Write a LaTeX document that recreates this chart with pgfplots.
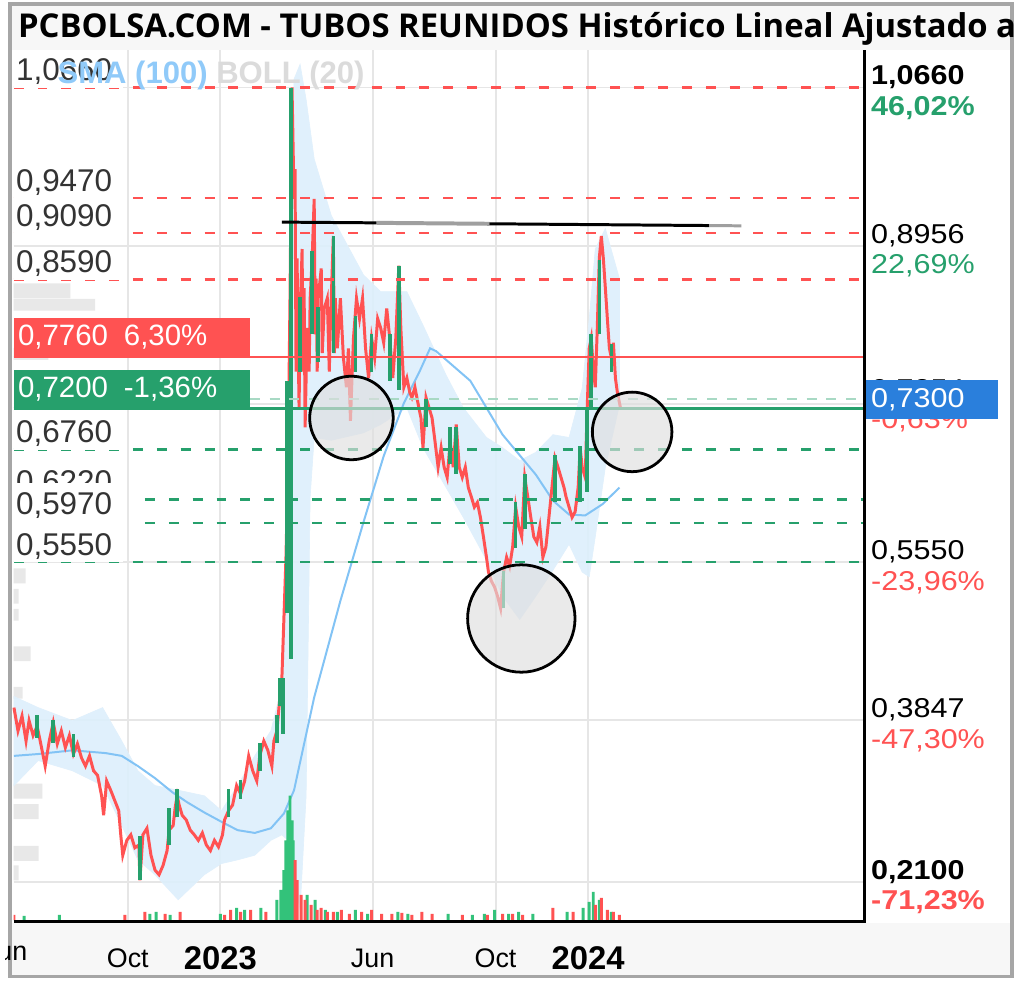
\documentclass[border=0pt]{standalone}
\usepackage{fontspec}
\setmainfont{Liberation Sans}
\newfontfamily\titlefont{Open Sans}
\newfontfamily\rfont[FakeStretch=1.12]{Liberation Sans}
\usepackage{pgfplots}
\usepackage{pgfplotstable}
\pgfplotsset{compat=1.18}

\definecolor{cred}{HTML}{FF5252}
\definecolor{cgreen}{HTML}{26A06C}
\definecolor{vgreen}{HTML}{33C27A}
\definecolor{cblue}{HTML}{2A7FDC}
\definecolor{sma}{HTML}{82C3F5}
\definecolor{smaleg}{HTML}{90CAF9}
\definecolor{bandc}{HTML}{DDEFFC}
\definecolor{gridc}{HTML}{E6E6E6}
\definecolor{bgc}{HTML}{F7F7F7}
\definecolor{framec}{HTML}{A6A6A6}
\definecolor{labc}{HTML}{333333}
\definecolor{histc}{HTML}{E8E8E8}

% close prices (day 0 = 1 Jan 2023)
\pgfplotstableread{
d p
-205 0.398
-201 0.373
-197 0.389
-193 0.362
-190 0.384
-186 0.368
-182 0.378
-178 0.357
-174 0.335
-170 0.362
-166 0.382
-162 0.359
-158 0.373
-154 0.355
-150 0.368
-146 0.348
-142 0.359
-138 0.344
-134 0.335
-130 0.346
-126 0.330
-122 0.325
-118 0.303
-116 0.282
-113 0.319
-109 0.309
-105 0.298
-101 0.287
-99 0.261
-97 0.239
-93 0.255
-89 0.261
-85 0.247
-81 0.250
-80 0.212
-77 0.261
-73 0.268
-69 0.239
-65 0.223
-61 0.218
-57 0.228
-53 0.244
-51 0.266
-47 0.271
-45 0.290
-43 0.303
-41 0.293
-38 0.282
-34 0.277
-30 0.266
-26 0.261
-22 0.255
-18 0.263
-14 0.250
-10 0.244
-6 0.255
-2 0.248
2 0.261
4 0.277
8 0.287
12 0.293
16 0.314
20 0.305
24 0.319
28 0.346
32 0.330
36 0.319
39 0.346
43 0.362
47 0.352
51 0.335
53 0.362
56 0.373
59 0.410
61 0.432
63 0.496
65 0.560
67 0.657
69 0.839
71 1.066
73 0.946
74 0.978
75 0.760
76 0.882
78 0.720
79 0.817
81 0.892
82 0.760
83 0.850
84 0.700
86 0.807
88 0.760
89 0.839
91 0.882
93 0.946
94 0.800
95 0.860
96 0.760
97 0.839
100 0.871
101 0.780
103 0.828
106 0.839
108 0.760
109 0.807
112 0.906
113 0.780
114 0.839
116 0.785
119 0.839
122 0.775
125 0.743
127 0.785
129 0.707
132 0.796
135 0.839
138 0.817
141 0.839
144 0.785
147 0.753
150 0.796
153 0.775
156 0.817
159 0.807
162 0.791
165 0.828
168 0.796
171 0.753
174 0.796
177 0.874
179 0.807
182 0.743
185 0.753
188 0.737
190 0.732
193 0.743
196 0.726
199 0.710
201 0.678
204 0.732
207 0.721
210 0.710
213 0.684
216 0.657
219 0.678
222 0.657
225 0.646
228 0.684
231 0.657
234 0.703
237 0.657
240 0.646
243 0.657
246 0.635
249 0.625
252 0.614
255 0.619
258 0.603
261 0.582
264 0.560
266 0.544
269 0.534
272 0.528
275 0.518
278 0.505
281 0.544
284 0.560
287 0.550
290 0.571
293 0.614
296 0.593
299 0.582
302 0.646
305 0.625
308 0.603
311 0.582
314 0.576
317 0.593
320 0.560
323 0.571
326 0.603
329 0.635
332 0.667
335 0.657
338 0.646
341 0.635
343 0.625
346 0.614
349 0.603
352 0.609
355 0.635
357 0.678
359 0.657
362 0.646
364 0.721
366 0.785
368 0.796
370 0.764
372 0.743
374 0.807
376 0.882
378 0.906
380 0.882
382 0.850
384 0.817
386 0.785
388 0.775
390 0.791
392 0.753
394 0.737
397 0.721
}\price

% green (up) candles: mid and half range
\pgfplotstableread{
d m e
-182 0.3775 0.0125
-166 0.3725 0.0125
-146 0.3575 0.0125
-80 0.236 0.024
-51 0.270 0.020
-43 0.295 0.015
8 0.295 0.015
20 0.310 0.010
39 0.345 0.015
56 0.375 0.015
59 0.415 0.015
62 0.400 0.030
66 0.625 0.125
70 0.758 0.308
79 0.800 0.040
91 0.845 0.045
97 0.800 0.030
112 0.843 0.063
134 0.790 0.030
150 0.780 0.020
168 0.775 0.025
177 0.807 0.067
204 0.715 0.015
228 0.680 0.020
234 0.675 0.025
281 0.525 0.020
293 0.595 0.025
302 0.620 0.030
332 0.645 0.025
357 0.650 0.030
364 0.675 0.045
368 0.760 0.040
376 0.840 0.040
388 0.775 0.015
}\gc

% Bollinger (20) band outline: upper band forward, lower band back
\pgfplotstableread{
d b
-205 0.410
-181 0.398
-147 0.384
-117 0.398
-98 0.362
-82 0.330
-65 0.314
-42 0.309
-16 0.303
1 0.287
17 0.314
34 0.346
50 0.373
61 0.421
67 0.678
73 1.075
79 1.091
85 1.053
89 1.021
93 0.989
110 0.928
142 0.864
159 0.846
185 0.846
201 0.810
224 0.756
241 0.721
264 0.689
280 0.678
297 0.664
313 0.673
330 0.692
346 0.689
359 0.742
366 0.817
372 0.892
382 0.914
396 0.860
396 0.724
382 0.657
372 0.582
366 0.539
359 0.544
346 0.574
330 0.546
313 0.518
297 0.493
280 0.518
264 0.557
241 0.603
224 0.635
201 0.678
185 0.721
159 0.703
142 0.694
110 0.686
93 0.689
89 0.625
85 0.303
79 0.180
73 0.218
67 0.255
61 0.261
50 0.255
34 0.239
17 0.234
1 0.230
-16 0.218
-42 0.191
-65 0.218
-82 0.234
-98 0.271
-117 0.314
-147 0.330
-181 0.341
-205 0.314
}\band

% SMA (100)
\pgfplotstableread{
d p
-205 0.346
-181 0.348
-147 0.352
-114 0.349
-98 0.346
-82 0.335
-65 0.322
-48 0.307
-33 0.296
-16 0.285
1 0.275
17 0.266
34 0.263
50 0.268
63 0.284
73 0.309
93 0.409
119 0.513
142 0.598
162 0.669
182 0.726
198 0.761
208 0.785
214 0.782
248 0.750
280 0.692
313 0.649
330 0.621
346 0.606
362 0.605
379 0.617
396 0.635
}\sma

% volume (relative units)
\pgfplotstableread{
d v
-205 5
-95 5
-75 8
-55 6
-40 8
4 5
10 10
20 8
30 10
45 8
74 60
76 40
80 25
84 20
90 15
96 10
100 12
106 8
112 8
120 10
128 6
140 8
150 10
160 6
170 6
180 7
190 5
200 8
210 6
240 5
265 5
280 6
290 6
300 5
330 12
350 8
372 15
378 22
384 10
390 8
396 5
}\vr
\pgfplotstableread{
d v
-195 4
-160 5
-70 6
-64 8
-50 5
0 6
16 12
24 10
40 12
56 20
60 30
63 50
65 80
67 110
69 125
71 100
72 80
86 25
94 20
104 10
116 8
134 10
146 6
176 8
186 6
226 6
250 5
262 6
272 10
286 6
296 8
310 6
344 8
360 12
366 18
370 28
376 20
388 8
}\vg

\pgfplotsset{base/.style={at={(4pt,-462.5pt)}, anchor=south west, scale only axis,
  width=427pt, height=437.5pt}}

\tikzset{lvl/.style={anchor=south west, fill=white, inner xsep=1pt, inner ysep=0pt,
  minimum height=16.5pt, text width=53pt, yshift=-0.5pt, text=labc,
  font=\fontsize{15.8}{17}\selectfont},
  rl/.style={anchor=west, xshift=4pt, yshift=-2.5pt, inner sep=0pt, align=left,
  font=\rfont\fontsize{13.7}{15.5}\selectfont},
  lbox/.style={anchor=south west, text=white, inner xsep=2pt, inner ysep=0pt,
  minimum height=19.5pt, text width=114.5pt, font=\fontsize{14.8}{16}\selectfont}}

\begin{document}
\begin{tikzpicture}
\begin{scope}[x=0.5pt,y=-0.5pt]
 \fill[white] (0,0) rectangle (1016,986);
 \fill[bgc] (5,5) rectangle (1011,50);
 \fill[bgc] (5,928) rectangle (1011,981);
\end{scope}

% volume-by-price profile
\begin{axis}[base, xmin=0, xmax=854, ymin=0.1694, ymax=1.1067, hide axis]
\addplot[xbar, bar width=7.5pt, bar shift=0pt, fill=histc, draw=none] coordinates {(57,0.847) (12,0.540) (5,0.518) (17,0.456) (29,0.308) (25,0.286) (25,0.241) (5,0.220)};
\addplot[xbar, bar width=6pt, bar shift=0pt, fill=histc, draw=none] coordinates {(82,0.832) (35,0.779) (5,0.498) (9,0.414)};
\end{axis}

\begin{axis}[base, xmin=-205.3, xmax=637.6, ymin=0.1694, ymax=1.1067,
  axis line style={draw=none}, tick style={draw=none},
  xtick={-92,0,151,273,365},
  xticklabels={Oct,{\fontsize{16.5}{18}\selectfont\bfseries 2023},Jun,Oct,{\fontsize{16.5}{18}\selectfont\bfseries 2024}},
  xticklabel style={anchor=center, yshift=-19.5pt, font=\fontsize{13.5}{15}\selectfont},
  ytick={0.21,0.3847,0.555,0.7254,0.8956,1.066}, yticklabels={},
  grid=major, major grid style={gridc, line width=1pt}, clip=false]

% Bollinger band
\addplot[fill=bandc, fill opacity=0.9, draw=sma!25, line width=0.3pt] table[x=d,y=b]{\band} -- cycle;

% SMA 100
\addplot[sma, line width=1pt] table[x=d,y=p]{\sma};

% price
\addplot[cred, line width=1.5pt, line join=miter] table[x=d,y=p]{\price};
\addplot[draw=none, mark=none, error bars/.cd, y dir=both, y explicit, error mark=none,
  error bar style={cgreen, line width=1.8pt}] table[x=d,y=m,y error=e]{\gc};

% levels
\addplot[cred, dash pattern=on 5pt off 7pt, line width=1.2pt] coordinates {(-205.3,1.066) (637.6,1.066)};
\addplot[cred, dash pattern=on 5pt off 7pt, line width=1.2pt] coordinates {(-205.3,0.947) (637.6,0.947)};
\addplot[cred, dash pattern=on 5pt off 7pt, line width=1.2pt] coordinates {(-205.3,0.909) (637.6,0.909)};
\addplot[cred, dash pattern=on 5pt off 7pt, line width=1.2pt] coordinates {(-205.3,0.859) (637.6,0.859)};
\addplot[cgreen, dash pattern=on 5pt off 7pt, line width=1.2pt] coordinates {(-205.3,0.676) (637.6,0.676)};
\addplot[cgreen, dash pattern=on 5pt off 7pt, line width=1.2pt] coordinates {(-75,0.622) (637.6,0.622)};
\addplot[cgreen, dash pattern=on 5pt off 7pt, line width=1.2pt] coordinates {(-75,0.597) (637.6,0.597)};
\addplot[cgreen, dash pattern=on 5pt off 7pt, line width=1.2pt] coordinates {(-205.3,0.555) (637.6,0.555)};
\addplot[cgreen!40, dash pattern=on 5pt off 5pt, line width=1pt] coordinates {(29,0.730) (637.6,0.730)};
\addplot[cred, line width=1pt] coordinates {(-205.3,0.776) (637.6,0.776)};
\addplot[cgreen, line width=1.5pt] coordinates {(-205.3,0.720) (637.6,0.720)};

% resistance line
\addplot[black, line width=1.5pt] coordinates {(61,0.921) (155,0.9202)};
\addplot[gray!75, line width=2pt] coordinates {(155,0.9202) (267,0.9192)};
\addplot[black, line width=1.5pt] coordinates {(267,0.9192) (485,0.9173)};
\addplot[gray!75, line width=1.5pt] coordinates {(485,0.9173) (517,0.9170)};

% circles
\addplot[only marks, mark=*, mark size=21pt, mark options={fill=gray!25, fill opacity=0.65, draw=black, line width=1.4pt}] coordinates {(130,0.710)};
\addplot[only marks, mark=*, mark size=27pt, mark options={fill=gray!25, fill opacity=0.65, draw=black, line width=1.4pt}] coordinates {(298.6,0.494)};
\addplot[only marks, mark=*, mark size=20pt, mark options={fill=gray!25, fill opacity=0.65, draw=black, line width=1.4pt}] coordinates {(408.6,0.695)};

% left level labels
\node[lvl] at (axis cs:-205.3,1.066) {1,0660};
\node[lvl] at (axis cs:-205.3,0.947) {0,9470};
\node[lvl] at (axis cs:-205.3,0.909) {0,9090};
\node[lvl] at (axis cs:-205.3,0.859) {0,8590};
\node[lvl] at (axis cs:-205.3,0.676) {0,6760};
\node[lvl] at (axis cs:-205.3,0.622) {0,6220};
\node[lvl, minimum height=20.5pt, text depth=-4pt] at (axis cs:-205.3,0.597) {0,5970};
\node[lvl] at (axis cs:-205.3,0.555) {0,5550};
\node[lbox, fill=cred] at (axis cs:-205.3,0.776) {0,7760\hspace{8pt}6,30\%};
\node[lbox, fill=cgreen] at (axis cs:-205.3,0.720) {0,7200\hspace{8pt}-1,36\%};

% indicator legend
\node[anchor=west, inner sep=0pt, font=\bfseries\fontsize{15.6}{17}\selectfont] at (axis cs:-162,1.079) {\textcolor{smaleg}{SMA (100)} \textcolor{black!14}{BOLL (20)}};

% right labels
\node[rl] at (axis cs:637.6,1.066) {\bfseries 1,0660\\\bfseries\textcolor{cgreen}{46,02\%}};
\node[rl] at (axis cs:637.6,0.8956) {0,8956\\\textcolor{cgreen}{22,69\%}};
\node[rl, yshift=1.5pt] at (axis cs:637.6,0.7254) {0,7254\\\textcolor{cred}{-0,63\%}};
\node[anchor=west, fill=cblue, text=white, inner xsep=4pt, inner ysep=0pt, minimum height=19.5pt, text width=59.5pt, font=\rfont\fontsize{13.7}{15.5}\selectfont] at (axis cs:637.6,0.730) {0,7300};
\node[rl] at (axis cs:637.6,0.555) {0,5550\\\textcolor{cred}{-23,96\%}};
\node[rl] at (axis cs:637.6,0.3847) {0,3847\\\textcolor{cred}{-47,30\%}};
\node[rl] at (axis cs:637.6,0.21) {\bfseries 0,2100\\\bfseries\textcolor{cred}{-71,23\%}};
\end{axis}

% volume
\begin{axis}[base, xmin=-205.3, xmax=637.6, ymin=0, ymax=875, hide axis]
\addplot[ybar, bar width=1.5pt, bar shift=0pt, fill=vgreen, draw=none] table[x=d,y=v]{\vg};
\addplot[ybar, bar width=1.5pt, bar shift=0pt, fill=cred, draw=none] table[x=d,y=v]{\vr};
\end{axis}

\begin{scope}[x=0.5pt,y=-0.5pt]
 \draw[black, line width=1.6pt] (8,926.5) -- (863.5,926.5) -- (863.5,50);
 \draw[framec, line width=2pt] (4,4) rectangle (1012,982);
 \pgfinterruptboundingbox
 \begin{scope}
  \clip (0,0) rectangle (1016,986);
  \node[anchor=west, inner sep=0pt, font=\titlefont\bfseries\fontsize{16.5}{18}\selectfont] at (12,29) {PCBOLSA.COM - TUBOS REUNIDOS Histórico Lineal Ajustado a dividendos};
  \node[anchor=center, inner sep=0pt, font=\fontsize{13.5}{15}\selectfont] at (0,957) {Jun};
 \end{scope}
 \endpgfinterruptboundingbox
\end{scope}
\end{tikzpicture}
\end{document}
